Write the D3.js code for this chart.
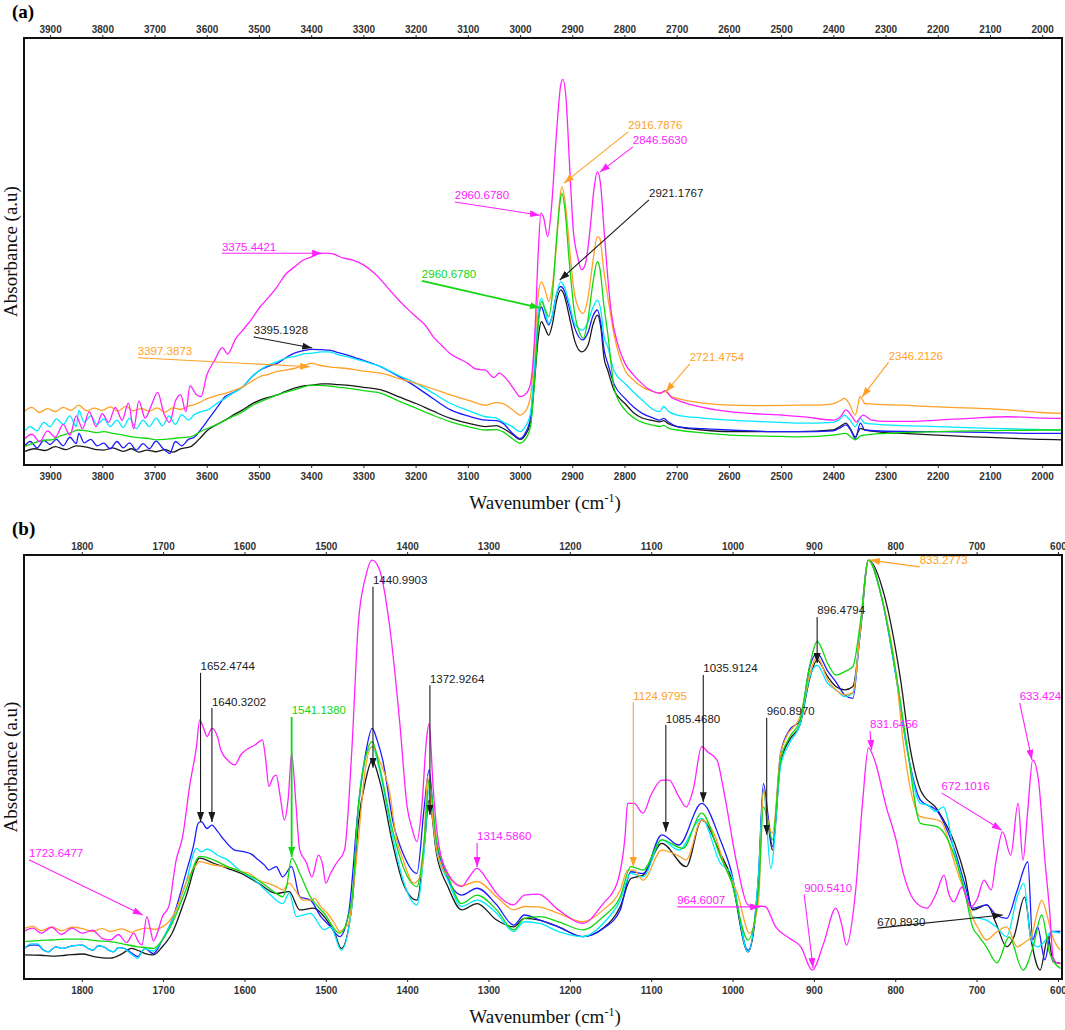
<!DOCTYPE html>
<html lang="en">
<head>
<meta charset="UTF-8">
<title>FTIR spectra</title>
<script src="https://d3js.org/d3.v7.min.js"></script>
<style>
  body { margin: 0; background: #fff; }
  .tick text { font-family: 'Liberation Sans', Arial, sans-serif; font-size: 10px; font-weight: bold; fill: #333; }
  .tick line { stroke: #222; }
  .axis-title { font-family: 'Liberation Serif', 'Times New Roman', serif; font-size: 19px; fill: #111; }
  .panel-tag { font-family: 'Liberation Serif', 'Times New Roman', serif; font-size: 19px; font-weight: bold; }
  .note { font-family: 'Liberation Sans', Arial, sans-serif; font-size: 11.5px; }
  .spec { fill: none; stroke-width: 1.3; }
</style>
</head>
<body>
<script>
const width = 1065, height = 1030;

const colors = {
  magenta: "#ff22ff", orange: "#ffa126", cyan: "#00e8ff",
  blue: "#1c1cff", black: "#1a1a1a", green: "#10d810"
};

// ---- panel (a): 3950 - 1960 cm-1 ----
const ticksA = [3900, 3800, 3700, 3600, 3500, 3400, 3300, 3200, 3100, 3000,
                2900, 2800, 2700, 2600, 2500, 2400, 2300, 2200, 2100, 2000];

const aMagenta = [[3950,6.0],[3935,7.2],[3920,5.5],[3905,8.0],[3890,6.5],[3875,9.5],[3862,7.0],[3850,11.5],[3838,8.5],[3825,12.5],[3812,9.0],[3800,12.0],[3788,10.0],[3775,13.5],[3762,10.5],[3750,14.5],[3740,8.5],[3730,15.0],[3718,11.0],[3706,14.0],[3694,17.0],[3682,12.0],[3671,10.0],[3660,15.0],[3650,16.5],[3640,12.5],[3632,18.5],[3620,16.5],[3611,16.0],[3600,21.0],[3585,24.5],[3570,27.5],[3560,26.0],[3545,29.5],[3531,31.6],[3515,34.0],[3498,37.0],[3480,39.5],[3465,41.8],[3450,44.5],[3432,46.4],[3415,48.0],[3398,48.8],[3385,49.5],[3371,49.6],[3355,49.3],[3340,48.5],[3320,48.0],[3299,46.8],[3280,45.0],[3266,43.3],[3250,41.0],[3232,38.6],[3215,36.5],[3199,34.7],[3180,32.5],[3166,30.0],[3150,28.0],[3133,26.0],[3115,24.8],[3100,23.8],[3085,22.5],[3066,22.2],[3050,20.5],[3040,21.5],[3025,20.0],[3010,17.5],[3000,16.0],[2990,16.5],[2980,19.0],[2972,30],[2965,50],[2960,59],[2955,58],[2947,53.5],[2940,60],[2930,78],[2922,89],[2918,90.3],[2912,86],[2905,70],[2898,55],[2890,49],[2882,45.7],[2875,47],[2866,55],[2858,65],[2852,68.7],[2846,66],[2839,55],[2832,44],[2825,35.5],[2812,28],[2799,23.8],[2782,21],[2766,19],[2750,17.5],[2732,16.8],[2722,17.4],[2710,15.8],[2699,15.2],[2650,13.5],[2599,12.5],[2550,12.0],[2499,11.7],[2450,11.2],[2399,10.5],[2385,11.5],[2376,12.9],[2365,11.5],[2356,10.1],[2343,11.7],[2326,10.5],[2300,10.2],[2250,10.2],[2200,10.5],[2130,11.0],[2067,11.3],[2000,11.0],[1962,10.9]];

const aOrange = [[3950,12.5],[3935,13.5],[3920,12.3],[3905,13.2],[3890,12.5],[3875,13.5],[3860,12.8],[3845,14.0],[3830,12.7],[3815,13.3],[3800,12.8],[3785,13.6],[3770,12.6],[3755,13.8],[3740,12.7],[3725,13.2],[3710,12.6],[3695,13.4],[3680,12.4],[3665,13.4],[3650,13.0],[3635,13.8],[3620,14.3],[3598,15.6],[3580,16.3],[3565,16.8],[3548,17.5],[3531,18.3],[3515,19.5],[3498,20.7],[3480,21.3],[3465,21.9],[3450,22.2],[3432,22.6],[3415,23.3],[3398,23.8],[3382,23.3],[3365,23.0],[3350,22.8],[3332,22.6],[3300,22.0],[3266,21.5],[3233,20.3],[3199,19.1],[3166,17.8],[3133,16.4],[3100,15.2],[3066,14.0],[3045,14.6],[3033,14.4],[3015,13.0],[3000,11.7],[2990,12.5],[2980,16],[2972,28],[2965,40],[2959,42.9],[2952,41],[2945,38.3],[2938,42],[2930,52],[2924,62],[2920,65.2],[2914,62],[2906,52],[2898,42],[2889,37],[2879,35.5],[2870,39],[2860,48],[2852,53.5],[2847,53],[2840,46],[2832,39.4],[2819,30.0],[2799,22.2],[2782,19.8],[2766,18.3],[2750,17.4],[2732,16.8],[2722,17.2],[2710,16.0],[2699,15.6],[2650,14.5],[2599,14.0],[2550,13.9],[2466,14.0],[2420,14.1],[2399,14.4],[2385,15.2],[2379,15.6],[2370,14.5],[2358,11.7],[2352,14.5],[2349,16.0],[2343,15.0],[2340,14.4],[2330,14.3],[2266,14.0],[2200,13.6],[2130,13.3],[2067,12.9],[2000,12.3],[1962,12.1]];

const aCyan = [[3950,7.8],[3938,9.0],[3925,8.0],[3912,10.0],[3900,9.0],[3888,10.8],[3875,9.5],[3862,11.5],[3850,9.0],[3845,12.8],[3835,10.0],[3822,11.5],[3810,9.5],[3797,10.8],[3785,9.0],[3772,10.5],[3760,8.8],[3748,11.0],[3735,8.5],[3722,10.5],[3710,9.0],[3697,11.0],[3685,9.2],[3672,11.5],[3660,9.5],[3648,11.8],[3635,10.5],[3624,11.8],[3610,12.5],[3598,12.9],[3580,14.5],[3565,15.6],[3548,17.0],[3531,18.3],[3515,20.5],[3498,22.2],[3480,23.5],[3465,24.2],[3450,25.0],[3432,25.4],[3415,26.0],[3398,26.2],[3380,26.5],[3365,26.5],[3348,25.8],[3332,25.4],[3300,24.3],[3266,23.0],[3233,21.0],[3199,19.1],[3166,16.8],[3133,14.4],[3100,12.8],[3066,11.3],[3045,11.0],[3033,10.1],[3015,9.0],[3000,7.8],[2990,9.0],[2980,12],[2972,24],[2965,36],[2959,39],[2952,36],[2945,33.2],[2938,35],[2930,40],[2922,42.9],[2916,42],[2906,38],[2895,33],[2880,31.6],[2870,33.5],[2860,37],[2852,38.6],[2845,36],[2839,30],[2832,27.7],[2820,22],[2799,19.1],[2782,17],[2766,15.2],[2745,13.0],[2732,12.5],[2725,13.7],[2715,12.5],[2699,11.7],[2650,11.0],[2599,10.5],[2500,10.0],[2466,9.8],[2400,10.0],[2385,11.0],[2379,11.7],[2368,10.5],[2358,9.0],[2348,10.9],[2340,9.8],[2300,9.4],[2200,9.0],[2100,8.6],[2000,8.3],[1962,8.2]];

const aBlue = [[3950,4.3],[3938,5.5],[3925,4.0],[3912,5.8],[3900,4.8],[3888,6.0],[3875,4.5],[3862,6.5],[3850,5.0],[3845,7.4],[3835,5.2],[3822,6.0],[3810,4.5],[3797,5.1],[3785,3.8],[3772,5.5],[3760,4.0],[3748,5.2],[3735,3.5],[3722,5.0],[3710,3.8],[3697,5.6],[3685,4.0],[3675,3.0],[3671,2.7],[3660,5.5],[3648,4.5],[3635,6.0],[3624,6.5],[3610,8.5],[3598,10.5],[3580,13.5],[3565,16.0],[3548,17.0],[3531,18.3],[3515,20.5],[3498,22.2],[3480,23.2],[3465,23.8],[3450,25.0],[3432,26.2],[3415,26.8],[3398,27.1],[3380,27.0],[3365,26.9],[3348,26.3],[3332,25.8],[3300,24.5],[3266,23.0],[3233,20.8],[3199,18.3],[3166,15.5],[3133,12.9],[3100,11.5],[3066,10.5],[3045,10.4],[3033,9.8],[3015,7.5],[3000,6.2],[2990,7.5],[2980,11],[2972,22],[2965,34],[2959,37],[2952,34.5],[2945,32.8],[2938,35],[2930,40],[2922,41.8],[2916,41],[2906,37],[2895,32],[2880,29.3],[2870,31],[2860,35],[2852,36.3],[2845,33],[2839,27],[2832,23.8],[2820,19],[2799,15.6],[2782,13.5],[2766,12.1],[2745,11.0],[2732,10.5],[2725,10.9],[2715,10.0],[2699,9.0],[2650,8.5],[2599,8.2],[2500,7.8],[2466,7.8],[2400,8.0],[2385,8.8],[2376,9.4],[2366,8.0],[2358,6.2],[2348,9.8],[2340,8.2],[2300,7.9],[2200,7.8],[2100,7.6],[2000,7.4],[1962,7.4]];

const aBlack = [[3950,3.1],[3930,3.8],[3910,3.4],[3890,4.3],[3870,3.6],[3850,4.5],[3830,4.2],[3810,3.6],[3797,3.5],[3780,4.0],[3760,3.2],[3744,3.8],[3730,3.0],[3715,3.5],[3697,3.1],[3680,3.6],[3665,3.0],[3650,3.8],[3631,4.3],[3615,6.0],[3598,8.2],[3580,9.5],[3565,10.5],[3548,11.8],[3531,12.9],[3515,14.2],[3498,15.2],[3480,15.9],[3465,16.4],[3450,17.2],[3432,18.0],[3415,18.5],[3398,18.7],[3380,19.0],[3365,19.0],[3348,18.8],[3332,18.7],[3300,18.2],[3266,17.6],[3233,16.0],[3199,14.4],[3166,12.6],[3133,10.9],[3100,9.8],[3066,9.0],[3045,9.2],[3033,8.6],[3015,7.2],[3000,6.0],[2990,7.0],[2980,10],[2972,20],[2965,30],[2959,33.6],[2952,32],[2945,30.4],[2938,33],[2930,38.5],[2922,41],[2916,40],[2906,35],[2895,29],[2882,26.5],[2870,28],[2860,33],[2852,35.1],[2845,32],[2839,25],[2832,22.2],[2820,17.5],[2799,14.4],[2782,12.2],[2766,11.0],[2745,10.4],[2732,10.1],[2725,10.4],[2715,9.6],[2699,9.0],[2650,8.2],[2599,7.8],[2500,7.8],[2466,7.8],[2400,8.2],[2385,9.2],[2376,9.8],[2366,8.2],[2358,6.6],[2348,8.6],[2340,8.2],[2300,7.6],[2266,7.4],[2200,7.0],[2133,6.6],[2067,6.3],[2000,6.0],[1962,5.9]];

const aGreen = [[3950,4.3],[3930,5.2],[3910,5.8],[3897,5.9],[3880,6.8],[3860,7.6],[3847,8.2],[3830,8.0],[3810,7.6],[3797,7.8],[3780,7.4],[3760,7.0],[3744,6.6],[3730,6.4],[3710,6.2],[3697,5.9],[3680,6.0],[3665,6.2],[3650,6.4],[3631,6.6],[3615,7.6],[3598,8.6],[3580,9.5],[3565,10.5],[3548,11.5],[3531,12.5],[3515,13.8],[3498,14.8],[3480,15.7],[3465,16.4],[3450,17.0],[3432,17.6],[3415,18.3],[3398,18.7],[3380,18.6],[3365,18.5],[3348,18.2],[3332,18.0],[3300,17.4],[3266,16.8],[3233,15.0],[3199,13.3],[3166,11.6],[3133,10.1],[3100,9.0],[3066,8.2],[3045,8.3],[3033,7.8],[3015,6.2],[3000,5.1],[2990,6.0],[2980,9],[2972,20],[2965,33],[2959,38.3],[2952,36.5],[2945,34.7],[2938,40],[2930,53],[2924,61],[2920,63.6],[2914,60],[2906,48],[2896,36],[2886,31],[2879,29.7],[2870,34],[2860,43],[2852,47.6],[2847,46],[2840,38],[2832,30.8],[2819,17.6],[2799,12.9],[2782,11.0],[2766,10.0],[2745,9.3],[2732,9.0],[2725,9.3],[2715,8.6],[2699,8.2],[2650,7.5],[2599,7.0],[2500,6.7],[2466,6.6],[2400,7.0],[2385,7.3],[2376,7.4],[2366,6.5],[2358,5.9],[2348,6.8],[2340,7.0],[2300,7.4],[2266,7.6],[2200,7.8],[2133,8.0],[2067,8.1],[2000,8.2],[1962,8.2]];

// peak labels: text, colour, line start [wavenumber, absorbance], arrow tip
const notesA = [
  { t: "3375.4421", c: "magenta", from: [3571, 49.6], to: [3379, 49.6] },
  { t: "3397.3873", c: "orange",  from: [3732, 25.1], to: [3402, 23.0] },
  { t: "3395.1928", c: "black",   from: [3510, 30.0], to: [3398, 27.4] },
  { t: "2960.6780", c: "green",   from: [3188, 43.1], to: [2962, 36.8] },
  { t: "2960.6780", c: "magenta", from: [3125, 61.6], to: [2962, 58.5] },
  { t: "2916.7876", c: "orange",  from: [2793, 78.0], to: [2916, 66.0] },
  { t: "2846.5630", c: "magenta", from: [2784, 74.5], to: [2847, 68.6] },
  { t: "2921.1767", c: "black",   from: [2753, 62.1], to: [2924, 43.3] },
  { t: "2721.4754", c: "orange",  from: [2675, 23.7], to: [2721, 17.1] },
  { t: "2346.2126", c: "orange",  from: [2294, 24.1], to: [2345, 15.9] }
];

// ---- panel (b): 1870 - 595 cm-1 ----
const ticksB = [1800, 1700, 1600, 1500, 1400, 1300, 1200, 1100, 1000, 900, 800, 700, 600];

const bMagenta = [[1871,11.2],[1860,12.0],[1850,10.8],[1837,12.2],[1825,10.5],[1812,12.0],[1799,10.8],[1787,11.5],[1775,9.6],[1765,9.2],[1755,10.5],[1745,8.6],[1736,10.8],[1731,9.0],[1726,8.0],[1720,14.7],[1716,12.0],[1712,9.0],[1706,11.5],[1701,14.7],[1693,17.1],[1684,28.0],[1676,33.6],[1667,46.0],[1659,54.8],[1655,61.1],[1650,59.0],[1646,57.2],[1640,59.1],[1633,57.0],[1629,54.0],[1620,51.5],[1612,50.5],[1604,53.0],[1595,54.4],[1587,55.2],[1578,56.4],[1574,52],[1570,45.4],[1565,47.5],[1561,48.1],[1556,43],[1551,37.5],[1546,43],[1542,53.2],[1537,42],[1532,30.4],[1524,27.5],[1517,24.1],[1509,29.2],[1504,27],[1500,22.6],[1494,25.0],[1487,27.3],[1477,30.4],[1468,54.0],[1460,83.9],[1451,94.9],[1443,98.8],[1434,96.5],[1422,83.9],[1409,60.3],[1400,40.6],[1394,35.5],[1388,32.4],[1382,40.6],[1376,57],[1373,60.3],[1368,45],[1362,32.8],[1350,24.9],[1333,21.8],[1324,24.0],[1314,26.1],[1302,23.5],[1290,20.2],[1269,17.5],[1256,19.8],[1239,20.0],[1214,16.3],[1184,13.1],[1159,17.8],[1142,22.6],[1132,34],[1129,41.4],[1121,41.4],[1110,39.1],[1100,43.5],[1087,46.9],[1078,46.9],[1066,43],[1057,40.6],[1048,45],[1038,54.8],[1030,53.5],[1019,51.6],[1011,44.6],[994,26.5],[981,17.5],[970,17.2],[960,17.1],[947,12.3],[930,9.6],[916,7.6],[902,2.1],[888,8.4],[873,16.7],[866,13],[860,8.0],[849,20.2],[840,42],[833,54.5],[826,52],[811,40.6],[799,32.8],[790,24.9],[777,18.6],[761,16.7],[750,20],[740,24.5],[734,20],[728,18.2],[718,21.7],[707,17.0],[699,19],[691,23.3],[682,21.0],[676,28],[668,34.7],[658,29.2],[649,41.5],[643,28.0],[637,40],[631,51.7],[624,47],[616,28],[610,15.6],[606,5.2],[601,3.8],[597,3.8]];

const bOrange = [[1871,11.9],[1860,12.4],[1850,11.4],[1837,12.3],[1825,11.4],[1812,12.2],[1799,11.9],[1787,11.2],[1775,11.9],[1765,11.2],[1750,11.8],[1739,11.0],[1731,11.6],[1720,12.0],[1710,11.7],[1701,12.3],[1693,13.5],[1684,16.3],[1672,22.6],[1659,27.0],[1655,27.7],[1646,27.3],[1640,27.0],[1625,26.5],[1612,26.0],[1604,25.3],[1595,25.0],[1583,23.3],[1570,22.5],[1561,21.8],[1553,21.0],[1545,22.6],[1538,21.0],[1528,18.6],[1517,18.6],[1514,19.0],[1506,17.0],[1498,15.5],[1489,13.0],[1483,11.2],[1477,12.0],[1472,13.1],[1468,18],[1460,32.8],[1451,50.1],[1443,54.8],[1434,51.5],[1422,44.6],[1413,33],[1405,28.1],[1392,22.6],[1384,24],[1379,32.8],[1375,47.7],[1370,40],[1362,28.9],[1345,23.3],[1333,22.0],[1314,23.0],[1290,19.4],[1269,16.3],[1256,17.1],[1239,17.0],[1214,15.5],[1184,13.5],[1159,16.3],[1138,21],[1129,25.7],[1121,25.7],[1110,23.3],[1087,30.4],[1066,29.0],[1057,28.1],[1038,37.5],[1020,33.0],[1011,27.3],[994,20.2],[979,10.8],[968,18.6],[962,44.6],[957,38],[951,34.4],[941,53],[934,57],[917,62],[905,72],[896,76],[883,70.5],[873,68.2],[862,67],[852,67.6],[843,82.3],[833,98.8],[816,89.4],[799,72.1],[790,55.6],[769,38.3],[748,37.5],[743,37.0],[727,27.3],[714,20],[705,14.5],[697,11.6],[688,9.2],[676,11.0],[663,12.3],[650,7.6],[642,8.5],[633,10.0],[625,16],[620,18.6],[612,14],[608,10.8],[597,6.8]];

const bBlue = [[1871,7.2],[1862,8.0],[1854,8.0],[1847,6.8],[1841,6.4],[1832,7.6],[1824,7.2],[1812,7.8],[1799,8.0],[1792,7.2],[1786,6.8],[1780,7.8],[1773,7.6],[1767,6.8],[1761,6.4],[1755,7.4],[1748,7.2],[1740,6.3],[1731,5.3],[1726,6.5],[1722,7.2],[1717,6.5],[1712,6.0],[1701,9.2],[1689,13.9],[1672,24.9],[1662,32],[1657,36.7],[1653,37.1],[1646,35.5],[1640,36.3],[1633,34.8],[1625,32.8],[1612,30.4],[1600,30.0],[1592,29.5],[1583,28.1],[1575,26.8],[1570,25.7],[1561,26.5],[1553,24.1],[1542,26.5],[1532,19.4],[1519,18.6],[1506,14.7],[1494,12.3],[1483,10.0],[1472,15.5],[1460,40.6],[1451,53.2],[1443,59.1],[1437,56.4],[1430,51.6],[1417,36.7],[1405,29.6],[1388,24.9],[1379,40.6],[1373,49.3],[1366,34.4],[1354,25.7],[1333,19.8],[1314,21.4],[1290,17.5],[1269,12.7],[1256,15.1],[1237,13.9],[1214,12.3],[1184,10.0],[1159,11.9],[1138,16.3],[1125,25.3],[1110,24.9],[1087,34.0],[1066,31.6],[1038,41.4],[1015,32.8],[1002,25.7],[981,6.8],[968,24.9],[962,46.1],[956,38],[951,31.2],[941,53.2],[930,58.7],[917,61],[905,73.7],[896,76.8],[883,72.6],[873,70.1],[862,67.0],[852,66.2],[843,82.3],[833,98.8],[816,89.4],[799,71.3],[786,54.8],[769,42.2],[748,39.5],[727,30.4],[714,22],[705,16.7],[688,17.5],[676,15.1],[663,14.3],[650,21.0],[637,27.6],[631,9.2],[625,12.3],[616,4.5],[608,11.2],[597,11.2]];

const bCyan = [[1871,7.2],[1862,8.3],[1854,8.3],[1847,6.8],[1841,6.4],[1832,7.6],[1824,7.2],[1812,7.8],[1799,8.0],[1792,7.2],[1786,6.8],[1780,7.8],[1773,7.6],[1767,6.8],[1761,6.4],[1755,7.4],[1748,7.2],[1740,6.0],[1731,4.9],[1726,6.5],[1722,7.2],[1717,6.8],[1712,6.6],[1701,9.2],[1689,13.9],[1672,22.6],[1659,30.8],[1653,30.0],[1646,30.6],[1642,30.4],[1633,29.2],[1621,28.1],[1604,25.3],[1587,23.3],[1570,20.2],[1553,17.8],[1545,20.2],[1536,14.7],[1519,15.5],[1502,11.6],[1494,12.3],[1481,6.8],[1468,17.1],[1460,40.6],[1451,52.4],[1443,54.8],[1434,49.3],[1417,32.8],[1405,23.3],[1388,17.5],[1379,30.4],[1373,44.6],[1364,30.4],[1350,23.3],[1333,17.1],[1314,18.6],[1290,15.5],[1269,11.2],[1256,13.5],[1237,13.1],[1214,11.2],[1184,10.0],[1159,13.1],[1138,18.6],[1125,24.9],[1110,24.1],[1087,32.8],[1066,30.4],[1038,37.9],[1015,27.3],[1002,24.9],[981,6.4],[968,24.9],[962,44.6],[953,26.1],[941,50.1],[930,55.6],[917,60],[905,71.3],[896,74.0],[883,69.7],[873,68.2],[862,66.6],[852,67.4],[843,82.3],[833,98.8],[816,89.4],[799,71.3],[786,54.8],[769,41.4],[760,41],[750,39.5],[741,40.6],[727,29.6],[714,21],[705,14.7],[688,13.9],[676,12.3],[663,10.0],[650,19.4],[642,22.6],[633,9.2],[625,7.6],[616,9.0],[608,11.2],[597,10.8]];

const bBlack = [[1871,5.7],[1850,5.6],[1837,5.4],[1820,5.6],[1799,5.9],[1785,5.3],[1765,4.9],[1750,6.0],[1739,7.2],[1728,6.5],[1722,6.0],[1712,5.7],[1701,7.6],[1689,10.8],[1672,19.4],[1655,28.5],[1638,27.3],[1621,26.1],[1604,24.9],[1583,22.6],[1561,20.2],[1545,20.6],[1532,16.3],[1515,16.7],[1502,14.7],[1489,10.8],[1481,7.2],[1468,17.1],[1460,36.7],[1451,46.9],[1443,51.6],[1434,46.9],[1417,31.2],[1405,22.6],[1388,18.6],[1379,31.2],[1373,42.2],[1364,29.6],[1350,21.8],[1333,16.3],[1314,17.8],[1290,13.9],[1269,12.3],[1256,14.3],[1237,13.9],[1214,12.3],[1184,10.0],[1159,12.0],[1138,17.1],[1125,23.7],[1110,24.5],[1087,32.0],[1057,26.5],[1038,37.5],[1015,29.6],[1002,24.1],[981,6.4],[968,23.0],[962,44.6],[957,38],[951,30.4],[941,50.9],[930,56.4],[917,60],[905,71],[896,75.2],[883,71.3],[873,69.0],[862,68.2],[852,69.0],[843,81.5],[833,98.8],[813,90.2],[794,71.3],[782,54.8],[769,44.6],[748,39.9],[727,32.0],[714,24],[705,16.3],[687,17.5],[676,13.1],[663,7.6],[654,10.0],[641,19.3],[633,9.2],[622,2.1],[612,10.0],[606,4.1],[597,3.7]];

const bGreen = [[1871,8.8],[1850,9.1],[1837,9.2],[1820,9.4],[1799,9.4],[1780,9.0],[1765,8.8],[1750,8.3],[1731,7.6],[1720,7.4],[1712,7.2],[1701,9.2],[1689,13.1],[1672,21.0],[1655,28.9],[1638,28.1],[1621,26.5],[1604,25.3],[1583,23.3],[1561,20.2],[1553,19.4],[1548,22],[1542,28.5],[1532,24.9],[1519,19.4],[1502,15.5],[1483,10.8],[1468,18.6],[1460,40.6],[1451,52.4],[1443,56.0],[1434,50.1],[1417,34.4],[1405,26.5],[1388,21.8],[1379,32.8],[1373,46.9],[1364,32.8],[1350,24.5],[1333,17.8],[1314,19.8],[1290,16.3],[1269,11.6],[1256,14.3],[1237,14.7],[1214,13.5],[1184,11.6],[1159,14.7],[1138,19.4],[1125,26.5],[1110,25.7],[1087,32.8],[1061,30.8],[1038,39.1],[1015,28.9],[1002,23.3],[981,9.2],[968,21.0],[962,40.6],[951,32.8],[941,51.6],[930,57],[917,61],[905,74],[896,79.6],[883,74.4],[873,71.7],[862,72.5],[852,73.7],[843,83.9],[833,98.8],[816,89.4],[799,72.1],[786,55.6],[769,36.7],[748,35.9],[727,28.9],[714,20],[705,12.3],[697,10],[688,7.6],[675,3.8],[660,9.9],[643,2.1],[630,8],[620,15.1],[610,6],[597,2.5]];

const notesB = [
  { t: "1652.4744", c: "black",   from: [1654, 72.2], to: [1654, 37.0] },
  { t: "1640.3202", c: "black",   from: [1640, 63.9], to: [1640, 37.0] },
  { t: "1541.1380", c: "green",   from: [1542, 61.8], to: [1542, 28.8] },
  { t: "1440.9903", c: "black",   from: [1442, 92.5], to: [1442, 49.8] },
  { t: "1372.9264", c: "black",   from: [1372, 69.3], to: [1372, 38.7] },
  { t: "1314.5860", c: "magenta", from: [1314, 32.1], to: [1314, 26.4] },
  { t: "1723.6477", c: "magenta", from: [1865, 28.1], to: [1725, 15.1] },
  { t: "1124.9795", c: "orange",  from: [1122, 65.3], to: [1122, 26.4] },
  { t: "1085.4680", c: "black",   from: [1082, 59.9], to: [1082, 34.7] },
  { t: "1035.9124", c: "black",   from: [1036, 71.7], to: [1036, 41.7] },
  { t: "960.8970",  c: "black",   from: [958, 61.6],  to: [958, 34.0] },
  { t: "896.4794",  c: "black",   from: [896, 85.4],  to: [896, 74.5] },
  { t: "833.2773",  c: "orange",  from: [770, 97.2],  to: [831, 98.8] },
  { t: "831.6456",  c: "magenta", from: [831, 58.5],  to: [829, 54.0] },
  { t: "633.424",   c: "magenta", from: [647, 65.1],  to: [632, 51.7] },
  { t: "672.1016",  c: "magenta", from: [743, 43.9],  to: [669, 35.1] },
  { t: "964.6007",  c: "magenta", from: [1068, 17.0], to: [966, 17.0] },
  { t: "900.5410",  c: "magenta", from: [912, 20.0],  to: [901, 2.6] },
  { t: "670.8930",  c: "black",   from: [822, 12.0],  to: [668, 15.1] }
];

const panels = [
  { tag: "a", domain: [3950, 1962], left: 24, right: 1062, top: 38, bottom: 465,
    ticks: ticksA, notes: notesA, tagY: 18, titleY: 509,
    series: [["black", aBlack], ["blue", aBlue], ["cyan", aCyan], ["orange", aOrange], ["green", aGreen], ["magenta", aMagenta]] },
  { tag: "b", domain: [1871, 595], left: 24, right: 1062, top: 555, bottom: 979,
    ticks: ticksB, notes: notesB, tagY: 535, titleY: 1023,
    series: [["black", bBlack], ["blue", bBlue], ["cyan", bCyan], ["orange", bOrange], ["green", bGreen], ["magenta", bMagenta]] }
];

const svg = d3.select("body").append("svg")
    .attr("width", width).attr("height", height);
const defs = svg.append("defs");

Object.entries(colors).forEach(([k, c]) => {
  defs.append("marker")
      .attr("id", "arr-" + k)
      .attr("viewBox", "0 0 10 7")
      .attr("refX", 10).attr("refY", 3.5)
      .attr("markerWidth", 10).attr("markerHeight", 7)
      .attr("markerUnits", "userSpaceOnUse")
      .attr("orient", "auto")
    .append("path")
      .attr("d", "M0,0L10,3.5L0,7Z")
      .attr("fill", c);
});

panels.forEach(p => {
  const x = d3.scaleLinear().domain(p.domain).range([p.left, p.right]);
  const y = d3.scaleLinear().domain([0, 100]).range([p.bottom, p.top]);
  const g = svg.append("g");

  defs.append("clipPath").attr("id", "clip-" + p.tag)
    .append("rect")
      .attr("x", p.left).attr("y", p.top)
      .attr("width", p.right - p.left).attr("height", p.bottom - p.top);

  const line = d3.line()
      .x(d => x(d[0]))
      .y(d => y(d[1]))
      .curve(d3.curveMonotoneX);

  const plot = g.append("g").attr("clip-path", `url(#clip-${p.tag})`);
  p.series.forEach(([c, vals]) => {
    plot.append("path")
        .attr("class", "spec")
        .attr("stroke", colors[c])
        .attr("d", line(vals));
  });

  // peak annotations
  const notes = g.append("g");
  p.notes.forEach(n => {
    const x1 = x(n.from[0]), y1 = y(n.from[1]);
    notes.append("line")
        .attr("x1", x1).attr("y1", y1)
        .attr("x2", x(n.to[0])).attr("y2", y(n.to[1]))
        .attr("stroke", colors[n.c])
        .attr("stroke-width", n.c === "green" ? 1.8 : 1.1)
        .attr("marker-end", `url(#arr-${n.c})`);
    notes.append("text")
        .attr("class", "note")
        .attr("x", x1).attr("y", y1 - 2.5)
        .attr("fill", colors[n.c])
        .text(n.t);
  });

  // frame
  g.append("rect")
      .attr("x", p.left).attr("y", p.top)
      .attr("width", p.right - p.left).attr("height", p.bottom - p.top)
      .attr("fill", "none").attr("stroke", "#111").attr("stroke-width", 2);

  const fmt = d3.format("d");
  g.append("g")
      .attr("transform", `translate(0,${p.top})`)
      .call(d3.axisTop(x).tickValues(p.ticks).tickSize(3).tickPadding(2.5).tickFormat(fmt))
      .call(a => a.select(".domain").remove());
  g.append("g")
      .attr("transform", `translate(0,${p.bottom})`)
      .call(d3.axisBottom(x).tickValues(p.ticks).tickSize(3).tickPadding(5).tickFormat(fmt))
      .call(a => a.select(".domain").remove());

  // titles
  const xt = g.append("text")
      .attr("class", "axis-title")
      .attr("x", (p.left + p.right) / 2 + 2).attr("y", p.titleY)
      .attr("text-anchor", "middle");
  xt.append("tspan").text("Wavenumber (cm");
  xt.append("tspan").attr("dy", -7).attr("font-size", 12).text("-1");
  xt.append("tspan").attr("dy", 7).text(")");

  g.append("text")
      .attr("class", "axis-title")
      .attr("transform", `translate(17,${(p.top + p.bottom) / 2}) rotate(-90)`)
      .attr("text-anchor", "middle")
      .text("Absorbance (a.u)");

  g.append("text")
      .attr("class", "panel-tag")
      .attr("x", 12).attr("y", p.tagY)
      .text(`(${p.tag})`);
});
</script>
</body>
</html>
